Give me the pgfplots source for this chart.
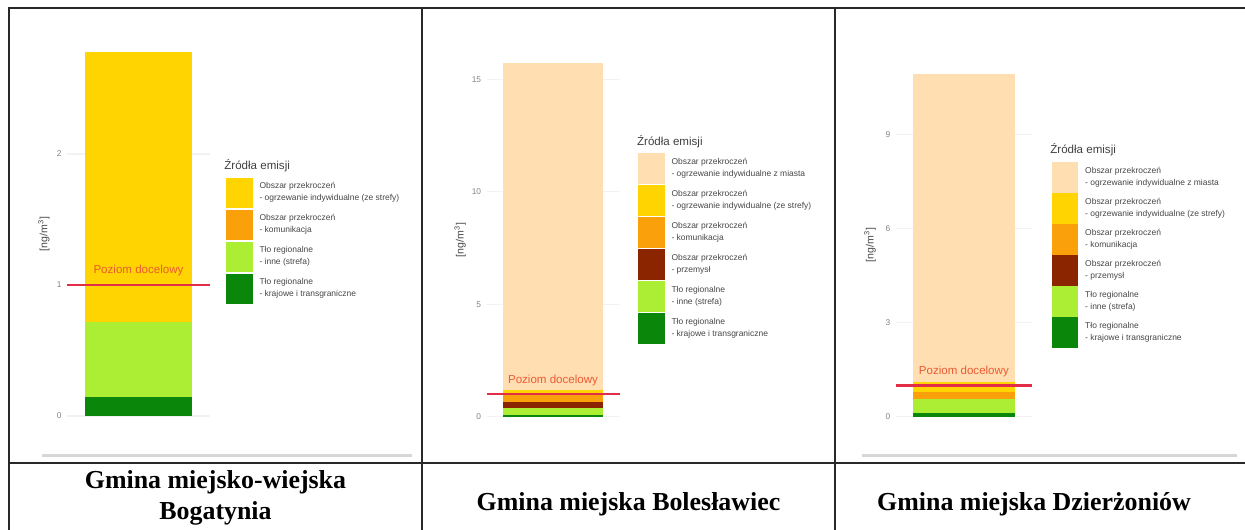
\documentclass[border=0pt]{standalone}
\usepackage{pgfplots}
\pgfplotsset{compat=1.18}
\usepackage{fontspec}
\setmainfont{Liberation Serif}
\newfontfamily\chartfont{Liberation Sans}

\definecolor{cpeach}{RGB}{255,222,178}
\definecolor{cyellow}{RGB}{255,212,0}
\definecolor{corange}{RGB}{250,160,10}
\definecolor{cbrown}{RGB}{139,37,0}
\definecolor{clgreen}{RGB}{172,238,52}
\definecolor{cdgreen}{RGB}{10,135,10}
\definecolor{cred}{RGB}{225,45,70}
\definecolor{clabel}{RGB}{235,90,50}
\definecolor{cborder}{RGB}{40,40,40}
\definecolor{cgrayline}{RGB}{215,215,215}
\definecolor{ctick}{RGB}{130,130,130}
\definecolor{clegtext}{RGB}{70,70,70}

\pgfplotsset{
  keyimg/.style={legend image code/.code={\fill[##1,draw=none] (0bp,-7.625bp) rectangle (13.25bp,7.625bp);}},
  panel/.style={
    scale only axis,
    anchor=south west,
    xmin=0.4, xmax=1.6,
    enlargelimits=false,
    xtick=\empty,
    axis line style={draw=none},
    major tick length=0pt,
    ymajorgrids,
    grid style={draw=black!5, line width=0.6bp},
    /pgf/number format/assume math mode=true,
    yticklabel style={font=\chartfont\fontsize{4.2}{4.2}\selectfont, text=ctick, xshift=0.8bp},
    ylabel={[ng/m\textsuperscript{3}]},
    ylabel style={font=\chartfont\fontsize{5.3}{5.3}\selectfont, text=clegtext, anchor=center},
    clip=false,
  },
  bars/.style={
    panel,
    ybar stacked,
    bar width=0.9,
    reverse legend,
    legend cell align=left,
    legend style={anchor=north west, draw=none, fill=none, inner sep=0pt, outer sep=0pt, row sep=0.75bp,
      nodes={inner sep=0pt, outer sep=0pt, align=left, font=\chartfont\fontsize{4.25}{6}\selectfont, text=clegtext},
      /tikz/every odd column/.style={column sep=3.5bp}},
    every axis plot post/.append style={draw=none, keyimg},
  },
  refline/.style={
    panel, hide axis,
  },
}

\begin{document}
\begin{tikzpicture}
\path[use as bounding box] (0bp,0bp) rectangle (622.5bp,-265bp);

% ---------- Panel 1: Bogatynia ----------
\begin{axis}[bars, at={(33.5bp,-217.1bp)}, width=71.5bp, height=200.35bp,
  ymin=-0.139, ymax=2.919, ytick={0,1,2},
  ylabel style={at={(axis description cs:-0.161,0.5)}},
  legend style={at={(axis description cs:1.1119,0.6394)}}]
\addplot[fill=cdgreen] coordinates {(1,0.147)};
\addlegendentry{Tło regionalne\\- krajowe i transgraniczne}
\addplot[fill=clgreen] coordinates {(1,0.573)};
\addlegendentry{Tło regionalne\\- inne (strefa)}
\addplot[fill=corange] coordinates {(1,0)};
\addlegendentry{Obszar przekroczeń\\- komunikacja}
\addplot[fill=cyellow] coordinates {(1,2.06)};
\addlegendentry{Obszar przekroczeń\\- ogrzewanie indywidualne (ze strefy)}
\end{axis}
\begin{axis}[refline, at={(33.5bp,-217.1bp)}, width=71.5bp, height=200.35bp,
  ymin=-0.139, ymax=2.919]
\addplot[cred, line width=1.2bp, no marks, forget plot] coordinates {(0.4,1) (1.6,1)};
\node[font=\chartfont\fontsize{5.8}{5.8}\selectfont, text=clabel, yshift=7bp] at (axis cs:1,1) {Poziom docelowy};
\end{axis}

% ---------- Panel 2: Boleslawiec ----------
\begin{axis}[bars, at={(243.25bp,-217.2bp)}, width=66.5bp, height=194.3bp,
  ymin=-0.785, ymax=16.485, ytick={0,5,10,15},
  ylabel style={at={(axis description cs:-0.199,0.5)}},
  legend style={at={(axis description cs:1.1391,0.7234)}}]
\addplot[fill=cdgreen] coordinates {(1,0.07)};
\addlegendentry{Tło regionalne\\- krajowe i transgraniczne}
\addplot[fill=clgreen] coordinates {(1,0.3)};
\addlegendentry{Tło regionalne\\- inne (strefa)}
\addplot[fill=cbrown] coordinates {(1,0.3)};
\addlegendentry{Obszar przekroczeń\\- przemysł}
\addplot[fill=corange] coordinates {(1,0.3)};
\addlegendentry{Obszar przekroczeń\\- komunikacja}
\addplot[fill=cyellow] coordinates {(1,0.2)};
\addlegendentry{Obszar przekroczeń\\- ogrzewanie indywidualne (ze strefy)}
\addplot[fill=cpeach] coordinates {(1,14.53)};
\addlegendentry{Obszar przekroczeń\\- ogrzewanie indywidualne z miasta}
\end{axis}
\begin{axis}[refline, at={(243.25bp,-217.2bp)}, width=66.5bp, height=194.3bp,
  ymin=-0.785, ymax=16.485]
\addplot[cred, line width=1.2bp, no marks, forget plot] coordinates {(0.4,1) (1.6,1)};
\node[font=\chartfont\fontsize{5.8}{5.8}\selectfont, text=clabel, yshift=7bp] at (axis cs:1,1) {Poziom docelowy};
\end{axis}

% ---------- Panel 3: Dzierzoniow ----------
\begin{axis}[bars, at={(447.85bp,-216.93bp)}, width=68.15bp, height=188.7bp,
  ymin=-0.5475, ymax=11.4975, ytick={0,3,6,9},
  ylabel style={at={(axis description cs:-0.1886,0.5)}},
  legend style={at={(axis description cs:1.1445,0.7195)}, row sep=0.25bp}]
\addplot[fill=cdgreen] coordinates {(1,0.13)};
\addlegendentry{Tło regionalne\\- krajowe i transgraniczne}
\addplot[fill=clgreen] coordinates {(1,0.42)};
\addlegendentry{Tło regionalne\\- inne (strefa)}
\addplot[fill=cbrown] coordinates {(1,0.02)};
\addlegendentry{Obszar przekroczeń\\- przemysł}
\addplot[fill=corange] coordinates {(1,0.22)};
\addlegendentry{Obszar przekroczeń\\- komunikacja}
\addplot[fill=cyellow] coordinates {(1,0.32)};
\addlegendentry{Obszar przekroczeń\\- ogrzewanie indywidualne (ze strefy)}
\addplot[fill=cpeach] coordinates {(1,9.84)};
\addlegendentry{Obszar przekroczeń\\- ogrzewanie indywidualne z miasta}
\end{axis}
\begin{axis}[refline, at={(447.85bp,-216.93bp)}, width=68.15bp, height=188.7bp,
  ymin=-0.5475, ymax=11.4975]
\addplot[cred, line width=1.2bp, no marks, forget plot] coordinates {(0.4,1) (1.6,1)};
\node[font=\chartfont\fontsize{5.8}{5.8}\selectfont, text=clabel, yshift=7bp] at (axis cs:1,1) {Poziom docelowy};
\end{axis}

% legend titles
\node[anchor=west, inner sep=0pt, font=\chartfont\fontsize{5.8}{5.8}\selectfont, text=black!75] at (112bp,-83bp) {Źródła emisji};
\node[anchor=west, inner sep=0pt, font=\chartfont\fontsize{5.8}{5.8}\selectfont, text=black!75] at (318.35bp,-70.85bp) {Źródła emisji};
\node[anchor=west, inner sep=0pt, font=\chartfont\fontsize{5.8}{5.8}\selectfont, text=black!75] at (525bp,-75bp) {Źródła emisji};

% light gray strips under the charts
\draw[cgrayline, line width=1.5bp] (21bp,-227.75bp) -- (206bp,-227.75bp);
\draw[cgrayline, line width=1.5bp] (431bp,-227.75bp) -- (618.5bp,-227.75bp);

% table rules
\begin{scope}[cborder, line width=1bp]
\draw (4.5bp,-265bp) -- (4.5bp,-3.75bp) -- (622.5bp,-3.75bp);
\draw (211bp,-3.75bp) -- (211bp,-265bp);
\draw (417.5bp,-3.75bp) -- (417.5bp,-265bp);
\draw (4.5bp,-231.35bp) -- (622.5bp,-231.35bp);
\end{scope}

% captions
\begin{scope}[font=\fontsize{13}{14.5}\selectfont\bfseries, every node/.style={anchor=base, inner sep=0pt}]
\node at (107.75bp,-244bp) {Gmina miejsko-wiejska};
\node at (107.75bp,-259.5bp) {Bogatynia};
\node at (314.25bp,-255bp) {Gmina miejska Bolesławiec};
\node at (517bp,-255bp) {Gmina miejska Dzierżoniów};
\end{scope}
\end{tikzpicture}
\end{document}
